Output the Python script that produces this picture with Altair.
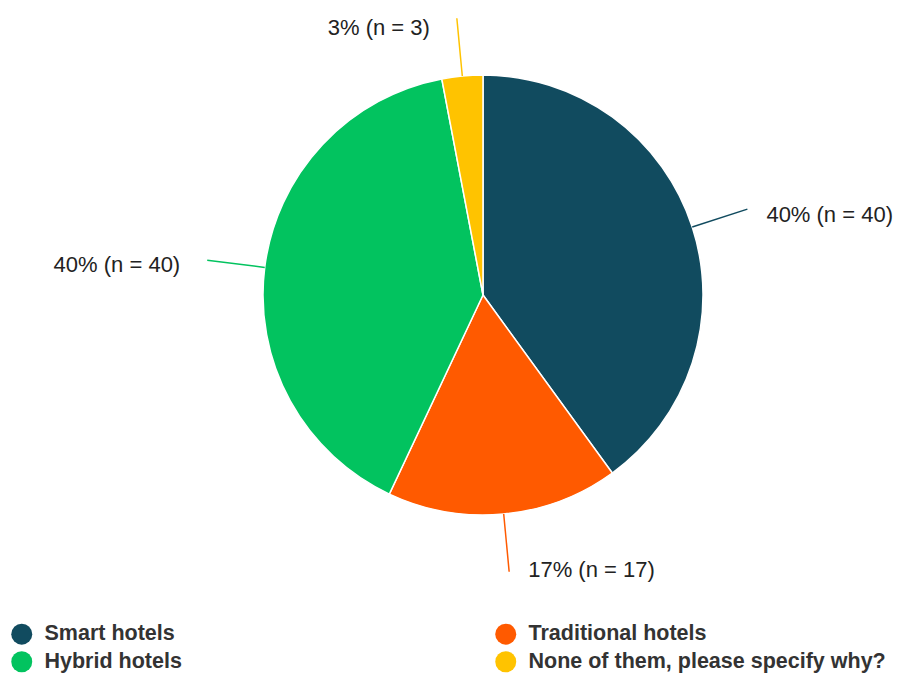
import altair as alt
import pandas as pd

categories = ["Smart hotels", "Traditional hotels", "Hybrid hotels", "None of them, please specify why?"]
counts = [40, 17, 40, 3]
labels = ["40% (n = 40)", "17% (n = 17)", "40% (n = 40)", "3% (n = 3)"]
colors = ["#114B5F", "#FF5A00", "#02C35F", "#FFC300"]

df = pd.DataFrame({
    "category": categories,
    "count": counts,
    "label": labels,
    "order": list(range(len(categories))),
})

W, H = 836, 590
CX, CY = W / 2, H / 2
R = 220
R_LINE_END = 278
R_TEXT_Y = 272
DX_RIGHT = 19
DX_LEFT = 27

color_scale = alt.Scale(domain=categories, range=colors)

base = alt.Chart(df)

pie = base.mark_arc(outerRadius=R, stroke="white", strokeWidth=1.5).encode(
    theta=alt.Theta("count:Q", stack=True),
    color=alt.Color(
        "category:N",
        scale=color_scale,
        sort=categories,
        legend=alt.Legend(
            title=None,
            orient="none",
            direction="horizontal",
            legendX=-54,
            legendY=623,
            columns=2,
            columnPadding=313,
            rowPadding=5,
            gridAlign="each",
            symbolType="circle",
            symbolSize=441,
            symbolStrokeWidth=0,
            labelOffset=12,
            labelFont="Liberation Sans",
            labelFontSize=21.5,
            labelFontWeight="bold",
            labelColor="#333333",
            labelLimit=600,
            padding=0,
        ),
    ),
    order=alt.Order("order:Q"),
)

geo = base.transform_window(
    cum="sum(count)", sort=[alt.SortField("order")]
).transform_joinaggregate(
    total="sum(count)"
).transform_calculate(
    a="2*PI*(datum.cum - datum.count/2)/datum.total"
).transform_calculate(
    x1=f"{CX} + {R}*sin(datum.a)",
    y1=f"{CY} - {R}*cos(datum.a)",
    x2=f"{CX} + {R_LINE_END}*sin(datum.a)",
    y2=f"{CY} - {R_LINE_END}*cos(datum.a)",
    side="sin(datum.a) >= 0 ? 1 : -1",
).transform_calculate(
    tx=f"datum.x2 + (datum.side > 0 ? {DX_RIGHT} : -{DX_LEFT})",
    ty=f"{CY} - {R_TEXT_Y}*cos(datum.a) + 4",
)

lines = geo.mark_rule(strokeWidth=1.5).encode(
    x=alt.X("x1:Q", scale=None),
    y=alt.Y("y1:Q", scale=None),
    x2="x2:Q",
    y2="y2:Q",
    color=alt.Color("category:N", scale=color_scale, legend=None),
)

text_props = dict(font="Liberation Sans", fontSize=22, color="#222222", baseline="middle")

text_right = geo.transform_filter("datum.side > 0").mark_text(align="left", **text_props).encode(
    x=alt.X("tx:Q", scale=None),
    y=alt.Y("ty:Q", scale=None),
    text="label:N",
)
text_left = geo.transform_filter("datum.side < 0").mark_text(align="right", **text_props).encode(
    x=alt.X("tx:Q", scale=None),
    y=alt.Y("ty:Q", scale=None),
    text="label:N",
)

chart = alt.layer(pie, lines, text_right, text_left).properties(
    width=W,
    height=H,
    padding={"left": 65, "right": 0, "top": 0, "bottom": 85},
    autosize=alt.AutoSizeParams(type="none"),
    background="white",
).configure_view(stroke=None)

chart.save("out.html", embed_options={"renderer": "svg", "actions": False})
